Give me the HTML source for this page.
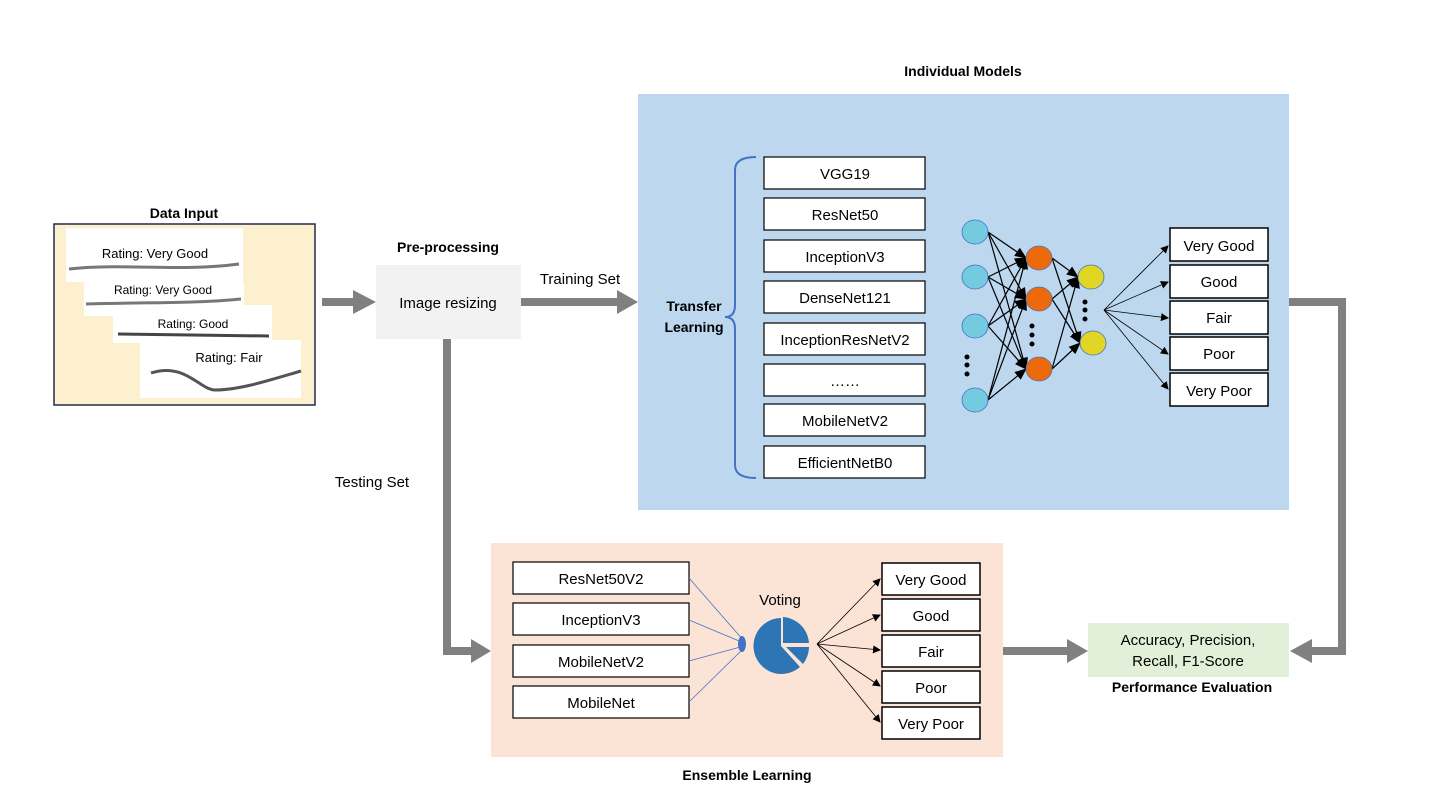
<!DOCTYPE html>
<html><head><meta charset="utf-8"><style>
body{margin:0;background:#fff}
text{font-family:"Liberation Sans",sans-serif;fill:#000}
</style></head><body>
<svg width="1431" height="804" viewBox="0 0 1431 804" xmlns="http://www.w3.org/2000/svg">
<defs>
<marker id="ah" markerWidth="8" markerHeight="8" refX="7" refY="4" orient="auto" markerUnits="userSpaceOnUse">
<path d="M0,0 L8,4 L0,8 z" fill="#000"/></marker>
<marker id="ah2" markerWidth="12" markerHeight="10" refX="11" refY="5" orient="auto" markerUnits="userSpaceOnUse">
<path d="M0,0 L12,5 L0,10 z" fill="#000"/></marker>
</defs>

<!-- Data input -->
<text x="184" y="218" font-size="14" font-weight="bold" text-anchor="middle">Data Input</text>
<rect x="54" y="224" width="261" height="181" fill="#fdf0cf" stroke="#1f2d4d" stroke-width="1.5"/>
<rect x="66" y="228" width="177" height="54" fill="#fff"/>
<rect x="84" y="282" width="160" height="34" fill="#fff"/>
<rect x="113" y="305" width="159" height="38" fill="#fff"/>
<rect x="140" y="340" width="161" height="58" fill="#fff"/>
<text x="155" y="258" font-size="13" text-anchor="middle">Rating: Very Good</text>
<path d="M69,269 C120,263 180,272 239,264" stroke="#777" stroke-width="3" fill="none"/>
<text x="163" y="294" font-size="12" text-anchor="middle">Rating: Very Good</text>
<path d="M86,304 C140,302 190,304 241,299" stroke="#777" stroke-width="3" fill="none"/>
<text x="193" y="328" font-size="12" text-anchor="middle">Rating: Good</text>
<path d="M118,334 L269,336" stroke="#444" stroke-width="3" fill="none"/>
<text x="229" y="362" font-size="13" text-anchor="middle">Rating: Fair</text>
<path d="M151,373 C185,362 200,390 215,390 C240,390 270,380 301,371" stroke="#555" stroke-width="3" fill="none"/>

<!-- grey arrows -->
<g fill="#808080">
<rect x="322" y="298" width="33" height="8"/><path d="M353,290 L376,302 L353,314z"/>
<rect x="521" y="298" width="98" height="8"/><path d="M617,290 L638,302 L617,314z"/>
<rect x="443" y="339" width="8" height="316"/><rect x="443" y="647" width="30" height="8"/><path d="M471,639 L491,651 L471,663z"/>
<rect x="1003" y="647" width="66" height="8"/><path d="M1067,639 L1088,651 L1067,663z"/>
<rect x="1289" y="298" width="55" height="8"/><rect x="1338" y="298" width="8" height="357"/><rect x="1310" y="647" width="36" height="8"/><path d="M1312,639 L1290,651 L1312,663z"/>
</g>

<!-- pre-processing -->
<text x="448" y="252" font-size="14" font-weight="bold" text-anchor="middle">Pre-processing</text>
<rect x="376" y="265" width="145" height="74" fill="#f2f2f2"/>
<text x="448" y="308" font-size="15" text-anchor="middle">Image resizing</text>
<text x="580" y="284" font-size="15" text-anchor="middle">Training Set</text>
<text x="372" y="487" font-size="15" text-anchor="middle">Testing Set</text>

<!-- Individual models -->
<text x="963" y="76" font-size="14" font-weight="bold" text-anchor="middle">Individual Models</text>
<rect x="638" y="94" width="651" height="416" fill="#bdd7ee"/>
<text x="694" y="311" font-size="14" font-weight="bold" text-anchor="middle">Transfer</text>
<text x="694" y="332" font-size="14" font-weight="bold" text-anchor="middle">Learning</text>
<path d="M756,157 Q735,157 735,170 L735,305 Q735,317 725,317 Q735,317 735,329 L735,465 Q735,478 756,478" stroke="#4472c4" stroke-width="2" fill="none"/>
<g font-size="15" text-anchor="middle" stroke="#000" stroke-width="1.2" fill="#fff">
<rect x="764" y="157" width="161" height="32"/><rect x="764" y="198" width="161" height="32"/>
<rect x="764" y="240" width="161" height="32"/><rect x="764" y="281" width="161" height="32"/>
<rect x="764" y="323" width="161" height="32"/><rect x="764" y="364" width="161" height="32"/>
<rect x="764" y="404" width="161" height="32"/><rect x="764" y="446" width="161" height="32"/>
</g>
<g font-size="15" text-anchor="middle">
<text x="845" y="179">VGG19</text><text x="845" y="220">ResNet50</text>
<text x="845" y="262">InceptionV3</text><text x="845" y="303">DenseNet121</text>
<text x="845" y="345">InceptionResNetV2</text><text x="845" y="386">……</text>
<text x="845" y="426">MobileNetV2</text><text x="845" y="468">EfficientNetB0</text>
</g>

<!-- NN -->
<g stroke="#000" stroke-width="1.2" marker-end="url(#ah2)">
<line x1="988" y1="232" x2="1026" y2="258"/><line x1="988" y1="232" x2="1026" y2="299"/><line x1="988" y1="232" x2="1026" y2="369"/>
<line x1="988" y1="277" x2="1026" y2="258"/><line x1="988" y1="277" x2="1026" y2="299"/><line x1="988" y1="277" x2="1026" y2="369"/>
<line x1="988" y1="326" x2="1026" y2="258"/><line x1="988" y1="326" x2="1026" y2="299"/><line x1="988" y1="326" x2="1026" y2="369"/>
<line x1="988" y1="400" x2="1026" y2="258"/><line x1="988" y1="400" x2="1026" y2="299"/><line x1="988" y1="400" x2="1026" y2="369"/>
<line x1="1052" y1="258" x2="1078" y2="277"/><line x1="1052" y1="258" x2="1080" y2="343"/>
<line x1="1052" y1="299" x2="1078" y2="277"/><line x1="1052" y1="299" x2="1080" y2="343"/>
<line x1="1052" y1="369" x2="1078" y2="277"/><line x1="1052" y1="369" x2="1080" y2="343"/>
</g>
<g stroke="#4472c4" stroke-width="0.8">
<g fill="#74cbe0"><ellipse cx="975" cy="232" rx="13" ry="12"/><ellipse cx="975" cy="277" rx="13" ry="12"/><ellipse cx="975" cy="326" rx="13" ry="12"/><ellipse cx="975" cy="400" rx="13" ry="12"/></g>
<g fill="#ec6a0c"><ellipse cx="1039" cy="258" rx="13" ry="12"/><ellipse cx="1039" cy="299" rx="13" ry="12"/><ellipse cx="1039" cy="369" rx="13" ry="12"/></g>
<g fill="#e2d624"><ellipse cx="1091" cy="277" rx="13" ry="12"/><ellipse cx="1093" cy="343" rx="13" ry="12"/></g>
</g>
<g fill="#000"><circle cx="967" cy="357" r="2.5"/><circle cx="967" cy="365" r="2.5"/><circle cx="967" cy="374" r="2.5"/>
<circle cx="1032" cy="326" r="2.5"/><circle cx="1032" cy="335" r="2.5"/><circle cx="1032" cy="344" r="2.5"/>
<circle cx="1085" cy="302" r="2.5"/><circle cx="1085" cy="310" r="2.5"/><circle cx="1085" cy="319" r="2.5"/></g>
<g stroke="#000" stroke-width="0.8" marker-end="url(#ah)">
<line x1="1104" y1="310" x2="1168" y2="246"/><line x1="1104" y1="310" x2="1168" y2="282"/>
<line x1="1104" y1="310" x2="1168" y2="318"/><line x1="1104" y1="310" x2="1168" y2="354"/><line x1="1104" y1="310" x2="1168" y2="389"/>
</g>
<g stroke="#000" stroke-width="1.5" fill="#fff">
<rect x="1170" y="228" width="98" height="33"/><rect x="1170" y="265" width="98" height="33"/><rect x="1170" y="301" width="98" height="33"/><rect x="1170" y="337" width="98" height="33"/><rect x="1170" y="373" width="98" height="33"/>
</g>
<g font-size="15" text-anchor="middle">
<text x="1219" y="251">Very Good</text><text x="1219" y="287">Good</text><text x="1219" y="323">Fair</text><text x="1219" y="359">Poor</text><text x="1219" y="396">Very Poor</text>
</g>

<!-- Ensemble -->
<rect x="491" y="543" width="512" height="214" fill="#fbe3d6"/>
<text x="747" y="780" font-size="14" font-weight="bold" text-anchor="middle">Ensemble Learning</text>
<g stroke="#000" stroke-width="1.2" fill="#fff">
<rect x="513" y="562" width="176" height="32"/><rect x="513" y="603" width="176" height="32"/><rect x="513" y="645" width="176" height="32"/><rect x="513" y="686" width="176" height="32"/>
</g>
<g font-size="15" text-anchor="middle">
<text x="601" y="584">ResNet50V2</text><text x="601" y="625">InceptionV3</text><text x="601" y="667">MobileNetV2</text><text x="601" y="708">MobileNet</text>
</g>
<g stroke="#4472c4" stroke-width="0.8">
<line x1="689" y1="578" x2="744" y2="641"/><line x1="689" y1="620" x2="744" y2="643"/><line x1="689" y1="661" x2="744" y2="646"/><line x1="689" y1="702" x2="744" y2="648"/>
</g>
<ellipse cx="742" cy="644" rx="4" ry="8" fill="#4472c4"/>
<text x="780" y="605" font-size="15" text-anchor="middle">Voting</text>
<path d="M781,646 L781,618 A28,28 0 1 0 800,667 z" fill="#2e75b6"/>
<path d="M783,617 A28,28 0 0 1 809,643 L783,643 z" fill="#2e75b6"/>
<path d="M786,647 L809,647 A28,28 0 0 1 803,664 z" fill="#2e75b6"/>
<g stroke="#000" stroke-width="0.8" marker-end="url(#ah)">
<line x1="817" y1="644" x2="880" y2="579"/><line x1="817" y1="644" x2="880" y2="615"/><line x1="817" y1="644" x2="880" y2="650"/><line x1="817" y1="644" x2="880" y2="686"/><line x1="817" y1="644" x2="880" y2="722"/>
</g>
<g stroke="#000" stroke-width="1.5" fill="#fff">
<rect x="882" y="563" width="98" height="32"/><rect x="882" y="599" width="98" height="32"/><rect x="882" y="635" width="98" height="32"/><rect x="882" y="671" width="98" height="32"/><rect x="882" y="707" width="98" height="32"/>
</g>
<g font-size="15" text-anchor="middle">
<text x="931" y="585">Very Good</text><text x="931" y="621">Good</text><text x="931" y="657">Fair</text><text x="931" y="693">Poor</text><text x="931" y="729">Very Poor</text>
</g>

<!-- Performance -->
<rect x="1088" y="623" width="201" height="54" fill="#e2efd9"/>
<text x="1188" y="645" font-size="15" text-anchor="middle">Accuracy, Precision,</text>
<text x="1188" y="666" font-size="15" text-anchor="middle">Recall, F1-Score</text>
<text x="1192" y="692" font-size="14" font-weight="bold" text-anchor="middle">Performance Evaluation</text>
</svg>
</body></html>
